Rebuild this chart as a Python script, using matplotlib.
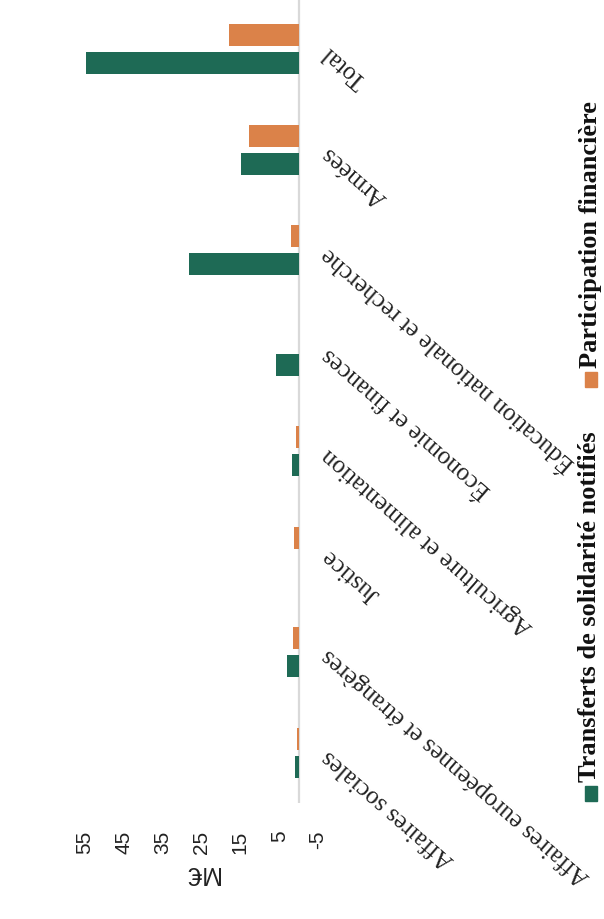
import numpy as np
import matplotlib
matplotlib.use("Agg")
import matplotlib.pyplot as plt
from matplotlib.patches import Rectangle

# ---- data (bottom -> top in the rotated picture) ----
categories = [
    "Affaires sociales",
    "Affaires européennes et étrangères",
    "Justice",
    "Agriculture et alimentation",
    "Économie et finances",
    "Éducation nationale et recherche",
    "Armées",
    "Total",
]
transferts = [0.9, 2.9, 0.0, 1.8, 5.8, 28.3, 14.8, 54.8]
participation = [0.5, 1.4, 1.1, 0.6, 0.0, 2.0, 12.7, 17.9]
value_ticks = [55, 45, 35, 25, 15, 5, -5]
series_names = ["Transferts de solidarité notifiés", "Participation financière"]
unit_label = "M€"

GREEN = "#1e6a55"
ORANGE = "#db8249"

W, H = 604, 920
fig = plt.figure(figsize=(W / 100, H / 100), dpi=100)
ax = fig.add_axes([85 / W, 1 - 804 / H, (318 - 85) / W, 804 / H])

y = np.arange(len(categories))
off = 0.14
bh = 0.22
b1 = ax.barh(y - off, transferts, height=bh, color=GREEN, zorder=2)
b2 = ax.barh(y + off, participation, height=bh, color=ORANGE, zorder=2)

ax.axvline(0, color="#d9d9d9", lw=1.6, zorder=1)

ax.set_xlim(55, -5)
ax.set_ylim(-0.5, len(categories) - 0.5)
for s in ax.spines.values():
    s.set_visible(False)

ax.set_xticks(value_ticks)
ax.set_xticklabels([str(v) for v in value_ticks], rotation=90,
                   fontsize=15, family="Liberation Sans", color="#222222")
ax.tick_params(axis="x", length=0, pad=19)
ax.set_xlabel(unit_label, rotation=180, fontsize=18, family="Liberation Sans",
              color="#222222", labelpad=5)

ax.yaxis.tick_right()
ax.set_yticks(y)
ax.set_yticklabels(categories, rotation=139, rotation_mode="anchor",
                   ha="right", va="center", fontsize=18,
                   family="Liberation Serif", color="#222222")
ax.tick_params(axis="y", length=0, pad=5)

# ---- rotated legend ----
legend_specs = [
    (series_names[1], b2.patches[0].get_facecolor(), 368, 388),
    (series_names[0], b1.patches[0].get_facecolor(), 782, 802),
]
for name, col, text_bottom, mk_bottom in legend_specs:
    fig.add_artist(Rectangle((585 / W, 1 - mk_bottom / H), 12 / W, 15 / H,
                             transform=fig.transFigure, color=col))
    fig.text(590 / W, 1 - text_bottom / H, name, rotation=90,
             ha="center", va="bottom", fontsize=19, fontweight="bold",
             family="Liberation Serif", color="#111111")

fig.savefig("out.png", dpi=100)
